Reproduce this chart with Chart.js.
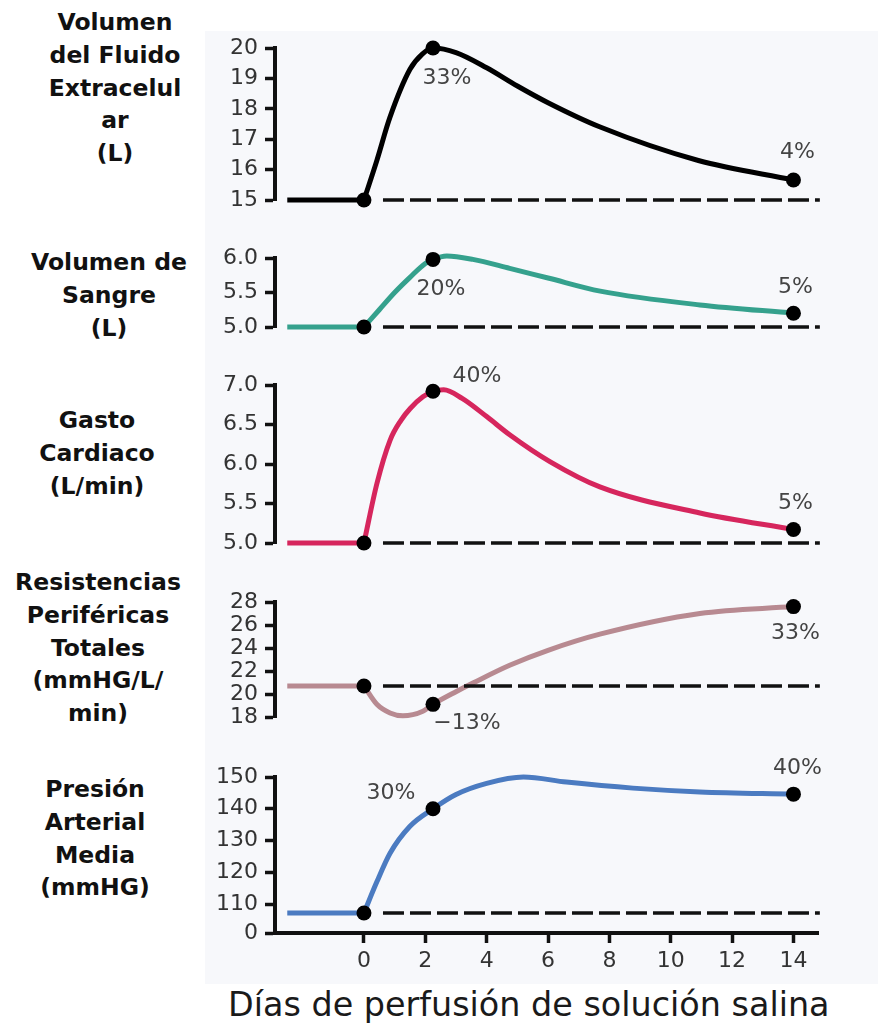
<!DOCTYPE html>
<html lang="es">
<head>
<meta charset="UTF-8">
<title>Días de perfusión de solución salina</title>
<script src="https://cdn.jsdelivr.net/npm/chart.js@4"></script>
<style>
  body { margin: 0; background: #fff; }
  #page { position: relative; width: 888px; height: 1024px; overflow: hidden; font-family: "DejaVu Sans", sans-serif; }
  .plate { position: absolute; left: 205px; top: 31px; width: 673px; height: 953px; background: #f7f8fb; }
  .panel { position: absolute; left: 0; width: 888px; }
  .title { position: absolute; width: 220px; margin-left: -110px; text-align: center; font-weight: bold;
           font-size: 23.5px; line-height: 32.8px; color: #111; }
  .xtitle { position: absolute; left: 228px; top: 985px; font-size: 33.4px; line-height: 40px; color: #1a1a1a; white-space: nowrap; }
</style>
</head>
<body>
<div id="page">
  <div class="plate"></div>

  <div class="title" style="left:115px; top:6px">Volumen<br>del Fluido<br>Extracelul<br>ar<br>(L)</div>
  <div class="title" style="left:109px; top:246px">Volumen de<br>Sangre<br>(L)</div>
  <div class="title" style="left:97px; top:404px">Gasto<br>Cardiaco<br>(L/min)</div>
  <div class="title" style="left:98px; top:566px">Resistencias<br>Periféricas<br>Totales<br>(mmHG/L/<br>min)</div>
  <div class="title" style="left:95px; top:773px">Presión<br>Arterial<br>Media<br>(mmHG)</div>

  <div class="panel" style="top:18px; height:212px"><canvas id="ecf"></canvas></div>
  <div class="panel" style="top:228px; height:129px"><canvas id="bv"></canvas></div>
  <div class="panel" style="top:355px; height:218px"><canvas id="co"></canvas></div>
  <div class="panel" style="top:572px; height:175px"><canvas id="tpr"></canvas></div>
  <div class="panel" style="top:747px; height:236px"><canvas id="map"></canvas></div>

  <div class="xtitle">Días de perfusión de solución salina</div>
</div>

<script>
  // days of infusion, shared by every panel
  const dayTicks = [0, 2, 4, 6, 8, 10, 12, 14];
  const leadInDays = [-2.5, 0];
  const dashDays = [0.62, 14.86];
  const dotDays = [0, 2.25, 14];

  // extracellular fluid volume (L)
  const ecfDays = [0, 0.42, 0.84, 1.5, 1.9, 2.25, 3, 4, 5, 6, 7.7, 10.9, 14];
  const ecfVals = [15, 16.3, 17.7, 19.3, 19.8, 20, 19.85, 19.35, 18.75, 18.2, 17.4, 16.3, 15.66];
  const ecfTicks = [15, 16, 17, 18, 19, 20];
  const ecfTickLabels = ['15', '16', '17', '18', '19', '20'];
  const ecfPct = [null, '33%', '4%'];

  // blood volume (L)
  const bvDays = [0, 0.5, 1, 1.5, 2, 2.25, 2.7, 3.55, 4.75, 6, 7.7, 10.95, 14];
  const bvVals = [5, 5.25, 5.5, 5.72, 5.92, 5.98, 6.03, 5.98, 5.85, 5.71, 5.52, 5.32, 5.2];
  const bvTicks = [5, 5.5, 6];
  const bvTickLabels = ['5.0', '5.5', '6.0'];
  const bvPct = [null, '20%', '5%'];

  // cardiac output (L/min)
  const coDays = [0, 0.42, 0.85, 1.2, 1.5, 1.92, 2.25, 2.6, 3.2, 4, 4.75, 6.06, 7.69, 10.95, 14];
  const coVals = [5, 5.75, 6.3, 6.55, 6.7, 6.85, 6.92, 6.94, 6.83, 6.6, 6.37, 6.03, 5.71, 5.38, 5.17];
  const coTicks = [5, 5.5, 6, 6.5, 7];
  const coTickLabels = ['5.0', '5.5', '6.0', '6.5', '7.0'];
  const coPct = [null, '40%', '5%'];

  // total peripheral resistance (mmHg/L/min)
  const tprDays = [0, 0.42, 0.85, 1.27, 1.92, 2.25, 3.0, 3.55, 4.75, 6, 7.69, 10.95, 14];
  const tprVals = [20.7, 19.1, 18.35, 18.1, 18.5, 19.1, 20.2, 20.95, 22.5, 23.8, 25.2, 27.0, 27.6];
  const tprTicks = [18, 20, 22, 24, 26, 28];
  const tprTickLabels = ['18', '20', '22', '24', '26', '28'];
  const tprPct = [null, '\u221213%', '33%'];

  // mean arterial pressure (mmHg); the lowest tick marks the axis break
  const mapDays = [0, 0.42, 0.85, 1.5, 2.25, 3, 4, 5.2, 6.6, 8.77, 10.95, 14];
  const mapVals = [107.2, 117, 126, 134.5, 140, 144.5, 148, 150, 148.4, 146.5, 145.3, 144.6];
  const mapTicks = [100.9, 110, 120, 130, 140, 150];
  const mapTickLabels = ['0', '110', '120', '130', '140', '150'];
  const mapPct = [null, '30%', '40%'];

  const xMin = -2.9, xMax = 14.8;
  const ink = '#111';
  const tickFont = { family: 'DejaVu Sans', size: 22 };

  // percentage notes next to the black dots
  const pctLabels = {
    id: 'pctLabels',
    afterDatasetsDraw(chart, args, opts) {
      const meta = chart.getDatasetMeta(0);
      const ctx = chart.ctx;
      ctx.save();
      ctx.font = '22px "DejaVu Sans"';
      ctx.fillStyle = '#444';
      ctx.textAlign = 'center';
      ctx.textBaseline = 'middle';
      opts.texts.forEach((t, i) => {
        if (!t) return;
        const pt = meta.data[i];
        const [dx, dy] = opts.offsets[i];
        ctx.fillText(t, pt.x + dx, pt.y + dy);
      });
      ctx.restore();
    }
  };

  function pts(xs, ys) {
    return xs.map((x, i) => ({ x: x, y: ys[i] }));
  }

  function panel(id, p) {
    const base = p.vals[0];
    const dotVals = dotDays.map(d => p.vals[p.days.indexOf(d)]);
    const axisGrid = { drawOnChartArea: false, drawTicks: true, tickLength: 10, tickWidth: 3.5, tickColor: ink };

    new Chart(document.getElementById(id), {
      type: 'line',
      data: {
        datasets: [
          { data: pts(dotDays, dotVals), showLine: false, pointRadius: 7.5, pointBorderWidth: 0,
            pointBackgroundColor: '#000', order: 0, clip: false },
          { data: pts(dashDays, [base, base]), borderColor: ink, borderWidth: 3.5, borderDash: [21, 6],
            pointRadius: 0, order: 1, clip: false },
          { data: pts(leadInDays, [base, base]), borderColor: p.color, borderWidth: 5, pointRadius: 0,
            order: 2, clip: false },
          { data: pts(p.days, p.vals), borderColor: p.color, borderWidth: 5, pointRadius: 0,
            cubicInterpolationMode: 'monotone', order: 2, clip: false }
        ]
      },
      options: {
        responsive: true,
        maintainAspectRatio: false,
        animation: false,
        events: [],
        layout: { padding: { top: 30, bottom: p.showX ? 0 : 30, left: 0, right: 70 } },
        plugins: {
          legend: { display: false },
          tooltip: { enabled: false },
          pctLabels: { texts: p.pct, offsets: p.offsets }
        },
        scales: {
          x: {
            type: 'linear', min: xMin, max: xMax, display: !!p.showX,
            afterBuildTicks: s => { s.ticks = dayTicks.map(v => ({ value: v })); },
            afterFit: s => { s.height = p.showX ? 50 : 0; },
            grid: axisGrid,
            border: { color: ink, width: 4 },
            ticks: { font: tickFont, color: '#333', padding: 5, autoSkip: false, maxRotation: 0 }
          },
          y: {
            min: p.ticks[0], max: p.ticks[p.ticks.length - 1],
            afterBuildTicks: s => { s.ticks = p.ticks.map(v => ({ value: v })); },
            afterFit: s => { s.width = 275; },
            grid: axisGrid,
            border: { color: ink, width: 4 },
            ticks: { font: tickFont, color: '#333', padding: 7, autoSkip: false,
                     callback: (v, i) => p.tickLabels[i] }
          }
        }
      },
      plugins: [pctLabels]
    });
  }

  panel('ecf', { days: ecfDays, vals: ecfVals, ticks: ecfTicks, tickLabels: ecfTickLabels, pct: ecfPct,
                 offsets: [null, [14, 30], [4, -28]], color: '#000' });
  panel('bv', { days: bvDays, vals: bvVals, ticks: bvTicks, tickLabels: bvTickLabels, pct: bvPct,
                offsets: [null, [8, 30], [2, -26]], color: '#35a18d' });
  panel('co', { days: coDays, vals: coVals, ticks: coTicks, tickLabels: coTickLabels, pct: coPct,
                offsets: [null, [44, -15], [2, -26]], color: '#d6265d' });
  panel('tpr', { days: tprDays, vals: tprVals, ticks: tprTicks, tickLabels: tprTickLabels, pct: tprPct,
                 offsets: [null, [34, 19], [2, 27]], color: '#b88a91' });
  panel('map', { days: mapDays, vals: mapVals, ticks: mapTicks, tickLabels: mapTickLabels, pct: mapPct,
                 offsets: [null, [-42, -15], [4, -26]], color: '#4b7bc1', showX: true });
</script>
</body>
</html>
